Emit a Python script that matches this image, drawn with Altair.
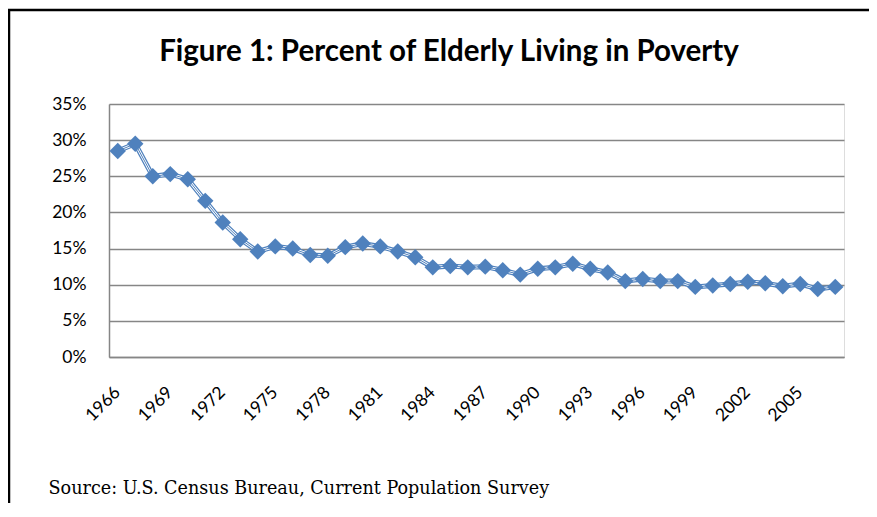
import altair as alt
import pandas as pd

# ---- data ----
years = list(range(1966, 2008))
poverty_pct = [28.5, 29.5, 25.0, 25.3, 24.6, 21.6, 18.6, 16.3, 14.6, 15.3,
               15.0, 14.1, 14.0, 15.2, 15.7, 15.3, 14.6, 13.8, 12.4, 12.6,
               12.4, 12.5, 12.0, 11.4, 12.2, 12.4, 12.9, 12.2, 11.7, 10.5,
               10.8, 10.5, 10.5, 9.7, 9.9, 10.1, 10.4, 10.2, 9.8, 10.1,
               9.4, 9.7]
x_tick_years = [1966, 1969, 1972, 1975, 1978, 1981, 1984, 1987, 1990,
                1993, 1996, 1999, 2002, 2005]
y_ticks = [0, 5, 10, 15, 20, 25, 30, 35]
title_text = "Figure 1: Percent of Elderly Living in Poverty"
source_text = "Source: U.S. Census Bureau, Current Population Survey"

df = pd.DataFrame({"year": years, "pct": poverty_pct})
ticks_df = pd.DataFrame({"year": x_tick_years,
                         "label": [str(v) for v in x_tick_years]})

BLUE = "#4F81BD"
GRID = "#868686"
W, H = 735, 253
PL, PT, PR, PB = 101, 96, 25, 146

x_scale = alt.Scale(type="point", padding=0.5)
x = alt.X(
    "year:O",
    scale=x_scale,
    axis=alt.Axis(
        values=x_tick_years, labels=False,
        ticks=False, grid=False, domainColor=GRID, domainWidth=1.5,
        title=source_text, titleX=-61, titleY=136, titleAnchor="start",
        titleAlign="left", titleBaseline="alphabetic",
        titleFont="DejaVu Serif", titleFontSize=17.6, titleFontWeight="normal",
        titleColor="black",
    ),
)
y = alt.Y(
    "pct:Q",
    scale=alt.Scale(domain=[0, 35], nice=False, zero=True),
    axis=alt.Axis(
        values=y_ticks, labelExpr="datum.value + '%'", ticks=False,
        labelPadding=23, labelFont="Lato", labelFontSize=17.5,
        labelColor="black", domainColor=GRID, domainWidth=1.5,
        grid=True, gridColor=GRID, gridWidth=1.4, title=None,
    ),
)

base = alt.Chart(df).encode(x=x, y=y)
line_outer = base.mark_line(color=BLUE, strokeWidth=5)
line_gap = base.mark_line(color="white", strokeWidth=2.6)
line_inner = base.mark_line(color=BLUE, strokeWidth=1)
points = base.mark_point(shape="diamond", filled=True, size=270,
                         color=BLUE, opacity=1)

# rotated year labels along the x axis, positioned by the x scale
x_labels = alt.Chart(ticks_df).mark_text(
    angle=315, align="right", baseline="middle",
    font="Lato", fontSize=17.5, color="black",
).encode(x=alt.X("year:O", scale=x_scale), y=alt.value(H + 33), text="label:N")

one = alt.Data(values=[{"t": title_text}])
title = alt.Chart(one).mark_text(
    font="Lato", fontSize=29.5, fontWeight="bold", color="black",
    align="center", baseline="alphabetic",
).encode(text="t:N", x=alt.value(340), y=alt.value(-43))

frame_data = alt.Data(values=[{"k": 1}])
frame_top = alt.Chart(frame_data).mark_rule(color="black", strokeWidth=2.5).encode(
    x=alt.value(-101), x2=alt.value(900), y=alt.value(-94))
frame_left = alt.Chart(frame_data).mark_rule(color="black", strokeWidth=2.5).encode(
    x=alt.value(-100), y=alt.value(-95), y2=alt.value(700))

chart = alt.layer(line_outer, line_gap, line_inner, points, x_labels, title,
                  frame_top, frame_left).properties(
    width=W, height=H,
    autosize=alt.AutoSizeParams(type="none"),
    padding={"left": PL, "top": PT, "right": PR, "bottom": PB},
).configure_view(stroke=None).configure(background="white")

chart.save("out.html", embed_options={"renderer": "svg", "actions": False})
